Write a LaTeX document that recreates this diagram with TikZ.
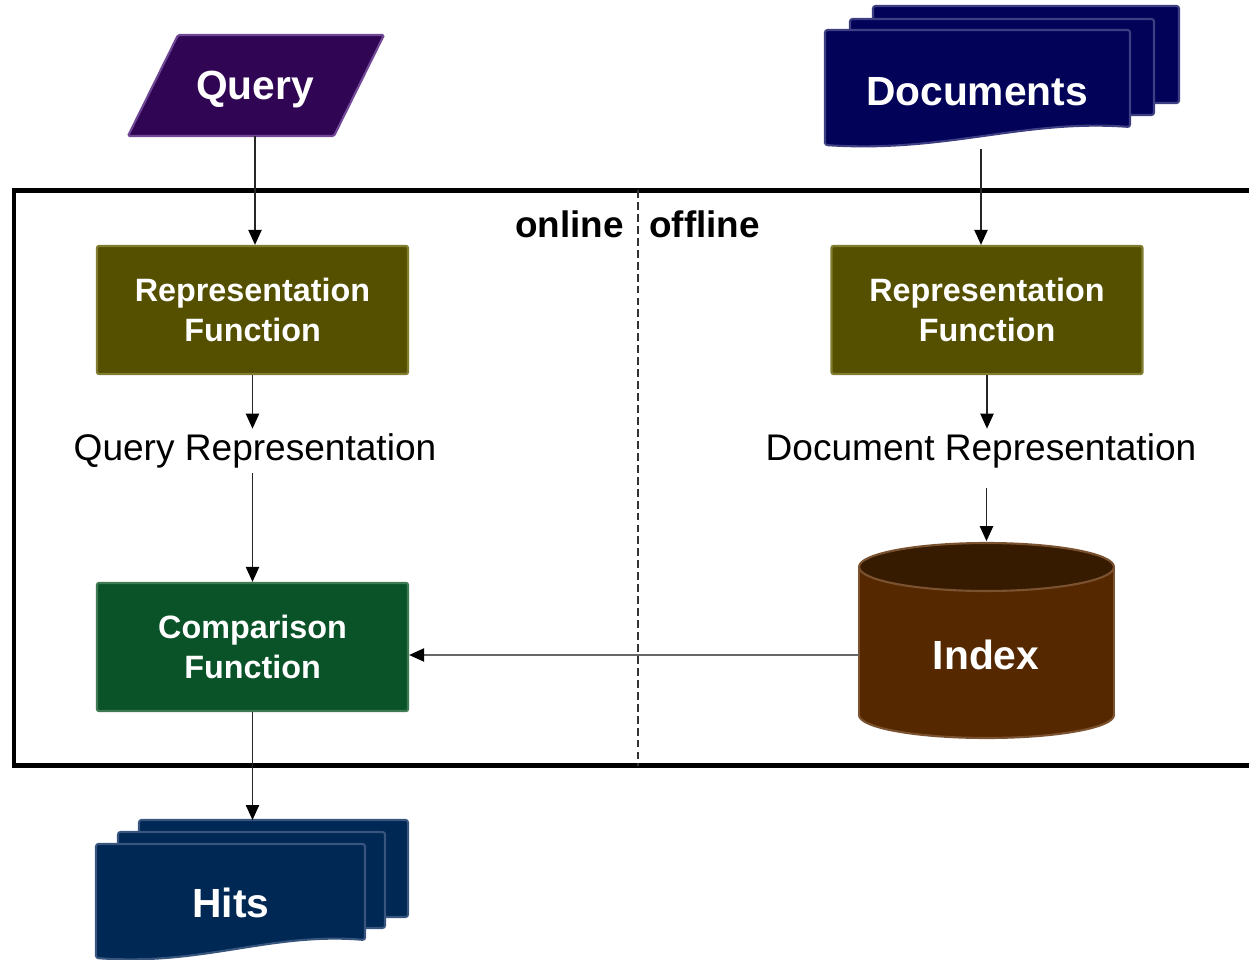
\documentclass[tikz,border=0pt]{standalone}
\usepackage{fontspec}
\setmainfont{Liberation Sans}
\usetikzlibrary{arrows.meta,calc}

\definecolor{querybg}{RGB}{48,5,84}
\definecolor{queryln}{RGB}{112,72,150}
\definecolor{docbg}{RGB}{2,2,88}
\definecolor{docln}{RGB}{62,62,130}
\definecolor{hitbg}{RGB}{0,40,84}
\definecolor{hitln}{RGB}{55,85,125}
\definecolor{repbg}{RGB}{85,80,0}
\definecolor{repln}{RGB}{128,124,48}
\definecolor{cmpbg}{RGB}{10,82,40}
\definecolor{cmpln}{RGB}{62,122,82}
\definecolor{idxbg}{RGB}{85,40,0}
\definecolor{idxtop}{RGB}{55,27,0}
\definecolor{idxln}{RGB}{122,82,48}

\tikzset{
  lbl/.style={text=white, font=\bfseries\fontsize{23.2}{28}\selectfont, inner sep=0pt},
  funcbox/.style={rectangle, rounded corners=0.04cm, line width=1.3pt, text=white,
    align=center, font=\bfseries\fontsize{18.4}{22.7}\selectfont,
    minimum width=6.22cm, minimum height=2.56cm, inner sep=0pt},
  repbox/.style={funcbox, fill=repbg, draw=repln},
  cmpbox/.style={funcbox, fill=cmpbg, draw=cmpln},
  flow/.style={line width=0.85pt, draw=black!85,
    -{Triangle[length=8.5pt,width=7.5pt,color=black]}},
  anno/.style={font=\fontsize{21.1}{25}\selectfont, inner sep=0pt, minimum height=0.88cm},
  side/.style={font=\bfseries\fontsize{21}{25}\selectfont, inner sep=0pt},
  sheet/.style={rounded corners=0.05cm, line width=1.2pt},
}

% front sheet of a document stack: left, top, right, bottom-left; the bottom edge waves up to the right
\newcommand\wavesheet[5]{%
  \path[sheet,#1] (#2,#5) -- (#2,#3) -- (#4,#3) -- (#4,{#5-18})
    .. controls ({#4-0.35*(#4-#2)},{#5-26}) and ({#2+0.4*(#4-#2)},{#5+8}) .. (#2,#5) -- cycle;}

\begin{document}
\begin{tikzpicture}[x=0.02cm,y=-0.02cm]
\useasboundingbox (0,0) rectangle (1249,960);
\clip (0,0) rectangle (1249,960);

% system frame with the online/offline split
\draw[line width=2.3pt] (14,190.5) rectangle (1265,765.5);
\draw[line width=0.75pt, black!80, dash pattern=on 4.5pt off 2.3pt] (638,190) -- (638,766);
\node[side, anchor=east] (online) at (624,224) {online};
\node[side, anchor=west] (offline) at (649,224) {offline};

% query input
\path[fill=querybg, draw=queryln, line width=1.2pt, rounded corners=0.03cm]
  (178,35) -- (384,35) -- (334,136) -- (128,136) -- cycle;
\node[lbl, minimum height=1.86cm] (query) at (255,89) {Query};

% document collection
\path[sheet, fill=docbg, draw=docln] (873,6) rectangle (1179,103);
\path[sheet, fill=docbg, draw=docln] (850,19) rectangle (1154,115);
\wavesheet{fill=docbg, draw=docln}{825}{30}{1130}{145}
\node[lbl] (docs) at (977,92) {Documents};
\coordinate (docsout) at (981,149);

% processing steps
\node[repbox] (rep1) at (252.5,310) {Representation\\Function};
\node[repbox] (rep2) at (987,310) {Representation\\Function};
\node[anno] (qrep) at (255,451) {Query Representation};
\node[anno] (drep) at (981,451) {Document Representation};
\node[cmpbox] (comp) at (252.5,647) {Comparison\\Function};

% index store
\fill[idxbg, draw=idxln, line width=1.2pt] (986.5,715) ellipse [x radius=2.55cm, y radius=0.46cm];
\fill[idxbg] (859,567) rectangle (1114,715);
\draw[idxln, line width=1.2pt] (859,567) -- (859,715) (1114,567) -- (1114,715);
\fill[idxtop, draw=idxln, line width=1.2pt] (986.5,567) ellipse [x radius=2.55cm, y radius=0.48cm];
\node[minimum width=5.1cm, minimum height=3.94cm, inner sep=0pt] (index) at (986.5,640) {};
\node[lbl] (idxlbl) at (986,655) {Index};

% result list
\path[sheet, fill=hitbg, draw=hitln] (139,820) rectangle (408,917);
\path[sheet, fill=hitbg, draw=hitln] (118,832) rectangle (385,928);
\wavesheet{fill=hitbg, draw=hitln}{96}{844}{365}{958}
\node[lbl] (hits) at (231,903) {Hits};
\coordinate (hitsin) at (252.5,820);

% connectors
\draw[flow] (query.south) -- (query.south |- rep1.north);
\draw[flow] (docsout) -- (docsout |- rep2.north);
\draw[flow] (rep1.south) -- (rep1.south |- qrep.north);
\draw[flow] (rep2.south) -- (rep2.south |- drep.north);
\draw[flow] (qrep.south -| comp.north) -- (comp.north);
\draw[flow] ($(index.north |- drep.south)+(0,15)$) -- (index.north);
\draw[flow, draw=black!60] (index.west |- idxlbl) -- (comp.east |- idxlbl);
\draw[flow] (comp.south) -- (hitsin);
\end{tikzpicture}
\end{document}
